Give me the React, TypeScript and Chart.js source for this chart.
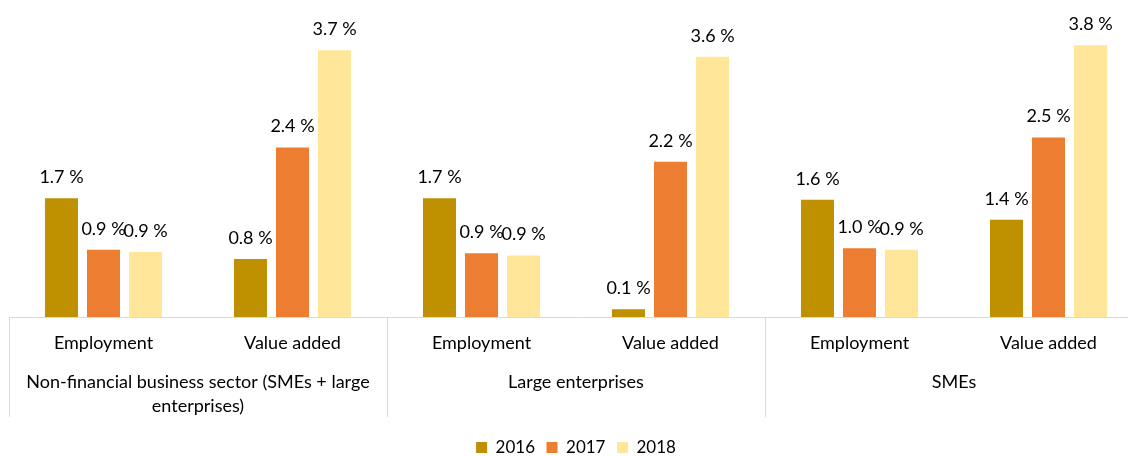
import React, { useEffect, useRef } from "react";
import { Chart, registerables } from "chart.js";

Chart.register(...registerables);

const categories = ["Employment", "Value added", "Employment", "Value added", "Employment", "Value added"];
const groupLabels: string[][] = [
  ["Non-financial business sector (SMEs + large", "enterprises)"],
  ["Large enterprises"],
  ["SMEs"],
];
const seriesNames = ["2016", "2017", "2018"];
const values2016 = [1.66, 0.81, 1.66, 0.11, 1.64, 1.36];
const values2017 = [0.94, 2.37, 0.89, 2.17, 0.96, 2.51];
const values2018 = [0.91, 3.73, 0.86, 3.64, 0.94, 3.8];
const seriesColors = ["#BF9000", "#ED7D31", "#FFE699"];

const FONT = "Lato, 'Open Sans', sans-serif";

const labelPlugin = {
  id: "valueLabels",
  afterDatasetsDraw(chart: any) {
    const ctx = chart.ctx;
    ctx.save();
    ctx.font = `18px ${FONT}`;
    ctx.fillStyle = "#000";
    ctx.textAlign = "center";
    ctx.textBaseline = "middle";
    chart.data.datasets.forEach((ds: any, i: number) => {
      const meta = chart.getDatasetMeta(i);
      meta.data.forEach((bar: any, j: number) => {
        const v = ds.data[j] as number;
        ctx.fillText(`${v.toFixed(1)} %`, bar.x, bar.y - 21);
      });
    });
    ctx.restore();
  },
};

const groupPlugin = {
  id: "groupAxis",
  afterDraw(chart: any) {
    const ctx = chart.ctx;
    const x = chart.scales.x;
    const area = chart.chartArea;
    const bottom = area.bottom;
    const n = categories.length;
    const boundaries: number[] = [area.left];
    for (let g = 1; g < groupLabels.length; g++) {
      const a = x.getPixelForTick(2 * g - 1);
      const b = x.getPixelForTick(2 * g);
      boundaries.push((a + b) / 2);
    }
    boundaries.push(area.right);
    ctx.save();
    ctx.strokeStyle = "#d9d9d9";
    ctx.lineWidth = 1;
    boundaries.forEach((bx) => {
      const px = Math.round(bx) + 0.5;
      ctx.beginPath();
      ctx.moveTo(px, bottom);
      ctx.lineTo(px, bottom + 100);
      ctx.stroke();
    });
    ctx.font = `18px ${FONT}`;
    ctx.fillStyle = "#000";
    ctx.textAlign = "center";
    ctx.textBaseline = "middle";
    groupLabels.forEach((lines, g) => {
      const cx = (x.getPixelForTick(2 * g) + x.getPixelForTick(Math.min(2 * g + 1, n - 1))) / 2;
      lines.forEach((line, k) => {
        ctx.fillText(line, cx, bottom + 65 + k * 24);
      });
    });
    ctx.restore();
  },
};

export default function App() {
  const ref = useRef<HTMLCanvasElement>(null);
  useEffect(() => {
    if (!ref.current) return;
    const chart = new Chart(ref.current, {
      type: "bar",
      data: {
        labels: categories,
        datasets: [values2016, values2017, values2018].map((d, i) => ({
          label: seriesNames[i],
          data: d,
          backgroundColor: seriesColors[i],
          borderWidth: 0,
          categoryPercentage: 0.667,
          barPercentage: 0.786,
        })),
      },
      options: {
        animation: false,
        responsive: false,
        maintainAspectRatio: false,
        layout: { padding: { left: 9, right: 9, top: 31, bottom: 0 } },
        plugins: {
          legend: {
            position: "bottom",
            labels: {
              boxWidth: 11,
              boxHeight: 11,
              padding: 11.5,
              color: "#000",
              font: { family: FONT, size: 17 },
            },
          },
          tooltip: { enabled: false },
          title: { display: false },
        },
        scales: {
          y: { display: false, min: 0, max: 4 },
          x: {
            grid: { display: false, drawTicks: false },
            border: { display: true, color: "#d9d9d9", width: 1 },
            ticks: { color: "#000", font: { family: FONT, size: 18 }, padding: 15, maxRotation: 0, autoSkip: false },
            afterFit: (scale: any) => {
              scale.height = 110.5;
            },
          },
        },
      },
      plugins: [labelPlugin, groupPlugin],
    });
    return () => chart.destroy();
  }, []);
  return (
    <div style={{ position: "fixed", left: 0, top: 0, width: 1128, height: 456, overflow: "hidden", background: "#fff" }}>
      <canvas ref={ref} width={1152} height={466} style={{ display: "block" }} />
    </div>
  );
}
